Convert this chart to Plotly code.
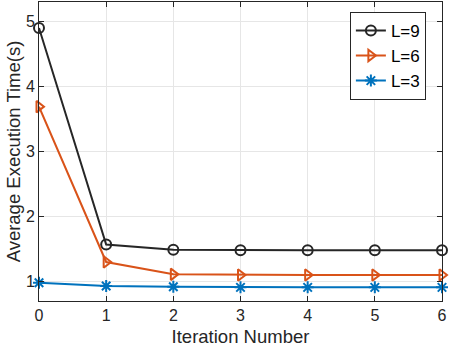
import plotly.graph_objects as go

iterations = [0, 1, 2, 3, 4, 5, 6]
time_l9 = [4.90, 1.57, 1.49, 1.48, 1.48, 1.48, 1.48]
time_l6 = [3.69, 1.30, 1.11, 1.10, 1.10, 1.10, 1.10]
time_l3 = [0.98, 0.93, 0.92, 0.91, 0.91, 0.91, 0.91]

FONT = "Liberation Sans, Arial, sans-serif"
AXIS_COLOR = "#262626"

series = [
    ("L=9", time_l9, "#262626", "circle-open"),
    ("L=6", time_l6, "#D95319", "triangle-right-open"),
    ("L=3", time_l3, "#0072BD", "asterisk-open"),
]

fig = go.Figure()
for name, vals, color, symbol in series:
    fig.add_trace(go.Scatter(
        x=iterations,
        y=vals,
        name=name,
        mode="lines+markers",
        cliponaxis=False,
        line=dict(color=color, width=2),
        marker=dict(symbol=symbol, size=10, color=color, line=dict(color=color, width=2)),
    ))

axis_common = dict(
    showline=True,
    linecolor=AXIS_COLOR,
    linewidth=1,
    mirror="ticks",
    ticks="inside",
    ticklen=5,
    tickcolor=AXIS_COLOR,
    showgrid=True,
    gridcolor="#e6e6e6",
    gridwidth=1,
    zeroline=False,
    automargin=False,
    tickfont=dict(family=FONT, size=16, color=AXIS_COLOR),
)

TITLE_FONT = dict(family=FONT, size=18.5, color=AXIS_COLOR)

fig.update_layout(
    width=452,
    height=350,
    paper_bgcolor="white",
    plot_bgcolor="white",
    margin=dict(l=39, r=10, t=2, b=49),
    font=dict(family=FONT, color=AXIS_COLOR),
    xaxis=dict(
        **axis_common,
        range=[0, 6],
        tickvals=iterations,
        title=dict(text="Iteration Number", font=TITLE_FONT, standoff=6),
    ),
    yaxis=dict(
        **axis_common,
        range=[0.7, 5.3],
        tickvals=[1, 2, 3, 4, 5],
        title=dict(text="Average Execution Time(s)", font=TITLE_FONT, standoff=0),
    ),
    showlegend=True,
    legend=dict(
        x=0.96, y=0.967,
        xanchor="right", yanchor="top",
        bgcolor="white",
        bordercolor="#262626",
        borderwidth=1,
        font=dict(family=FONT, size=17, color="#000000"),
        tracegroupgap=0,
        itemwidth=30,
    ),
)

# drop the browser's default 8px body margin so the figure fills the window
fig.write_html(
    "out.html",
    config={"displayModeBar": False},
    post_script="document.body.style.margin='0';",
)
